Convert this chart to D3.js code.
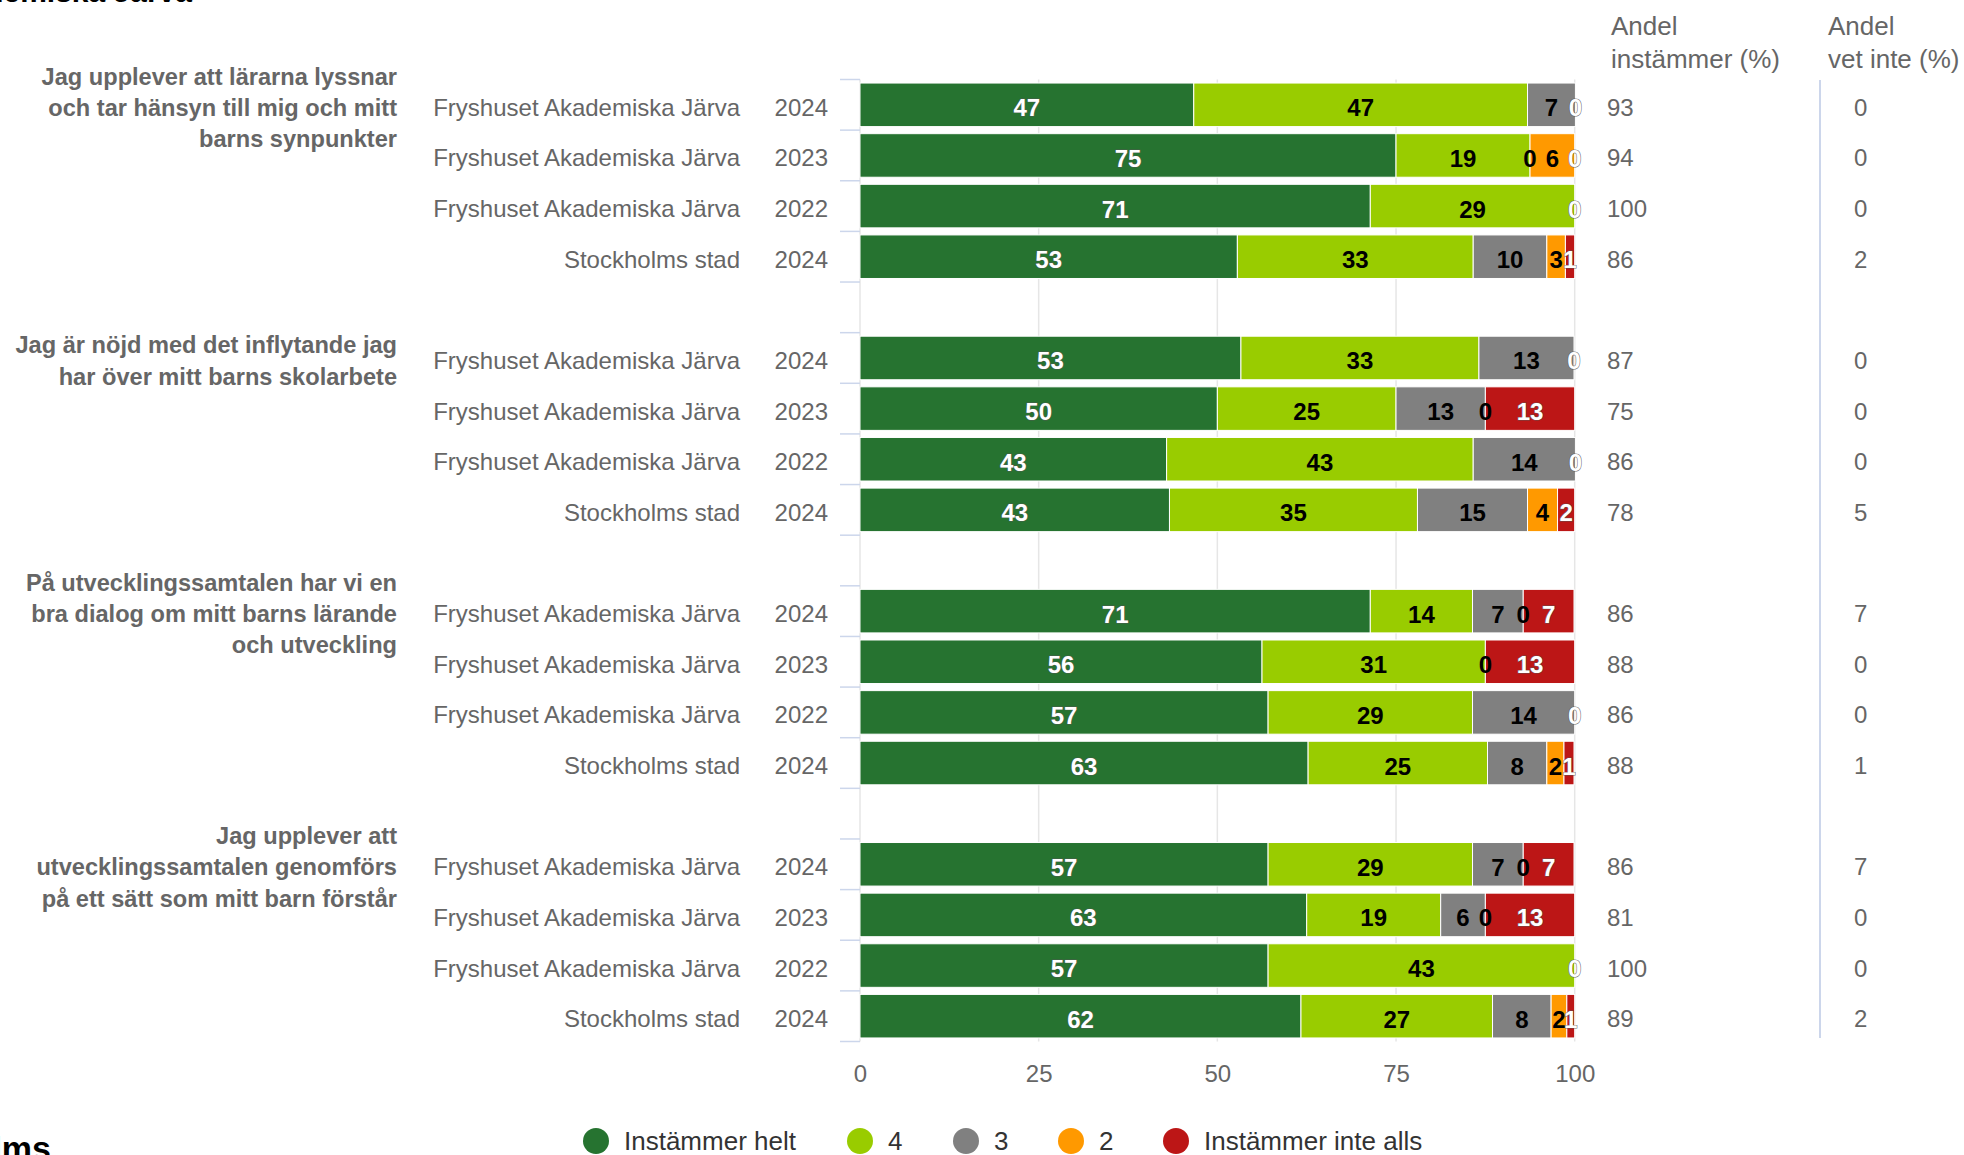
<!DOCTYPE html>
<html><head><meta charset="utf-8">
<script src="https://cdn.jsdelivr.net/npm/d3@7"></script>
<style>
html,body{margin:0;padding:0;background:#fff;}
svg{display:block;font-family:"Liberation Sans",Arial,Helvetica,sans-serif;}
</style></head>
<body><svg id="c" width="1964" height="1155"></svg>
<script>
// ---------- data ----------
const questions = [
  ["Jag upplever att lärarna lyssnar", "och tar hänsyn till mig och mitt", "barns synpunkter"],
  ["Jag är nöjd med det inflytande jag", "har över mitt barns skolarbete"],
  ["På utvecklingssamtalen har vi en", "bra dialog om mitt barns lärande", "och utveckling"],
  ["Jag upplever att", "utvecklingssamtalen genomförs", "på ett sätt som mitt barn förstår"]
];
const units = ["Fryshuset Akademiska Järva", "Fryshuset Akademiska Järva", "Fryshuset Akademiska Järva", "Stockholms stad"];
const years = ["2024", "2023", "2022", "2024"];

const seriesNames = ["Instämmer helt", "4", "3", "2", "Instämmer inte alls"];
const seriesColors = ["#267330", "#99cc00", "#808080", "#ff9900", "#bc1616"];
const labelColors = ["#ffffff", "#000000", "#000000", "#000000", "#ffffff"];

// values per row (4 questions x 4 rows)
const helt      = [46.7, 75.0, 71.4, 52.8,  53.3, 50.0, 42.9, 43.3,  71.4, 56.25, 57.1, 62.7,  57.1, 62.5, 57.1, 61.7];
const fyra      = [46.7, 18.75, 28.6, 33.0, 33.3, 25.0, 42.9, 34.7,  14.3, 31.25, 28.6, 25.1,  28.6, 18.75, 42.9, 26.8];
const tre       = [6.7, 0, 0, 10.3,         13.3, 12.5, 14.3, 15.4,  7.1, 0, 14.3, 8.3,        7.1, 6.25, 0, 8.2];
const tva       = [0, 6.25, 0, 2.6,         0, 0, 0, 4.2,            0, 0, 0, 2.4,             0, 0, 0, 2.2];
const inteAlls  = [0, 0, 0, 1.3,            0, 12.5, 0, 2.4,         7.1, 12.5, 0, 1.4,        7.1, 12.5, 0, 1.1];

const andelInstammer = [93, 94, 100, 86,  87, 75, 86, 78,  86, 88, 86, 88,  86, 81, 100, 89];
const andelVetInte   = [0, 0, 0, 2,       0, 0, 0, 5,      7, 0, 0, 1,      7, 0, 0, 2];

const xTicks = [0, 25, 50, 75, 100];
const headers = [["Andel", "instämmer (%)"], ["Andel", "vet inte (%)"]];

// ---------- build ----------
const series = [helt, fyra, tre, tva, inteAlls];
const nRows = questions.length * 5 - 1;
const rows = [];
questions.forEach((q, g) => {
  units.forEach((u, i) => {
    const k = g * 4 + i;
    rows.push({slot: g * 5 + i, g, i, unit: u, year: years[i], vals: series.map(s => s[k]),
               inst: andelInstammer[k], vet: andelVetInte[k]});
  });
});

const svg = d3.select("#c");
const x = d3.scaleLinear().domain([0, 100]).range([860, 1574.7]);
const y = d3.scaleBand().domain(d3.range(nRows)).range([79.5, 1041.5]).paddingInner(0.14).paddingOuter(0.07);
const step = y.step();
const cy = s => y(s) + y.bandwidth() / 2;
const yTop = y.range()[0], yBot = y.range()[1];
const TXT = 11;   // baseline offset for category texts
const LBL = 11.5; // baseline offset for bar labels

// gridlines
svg.append("g").selectAll("line").data(xTicks).join("line")
  .attr("x1", d => x(d)).attr("x2", d => x(d))
  .attr("y1", yTop).attr("y2", yBot)
  .attr("stroke", "#e6e6e6").attr("stroke-width", 1.5);

// y ticks at row boundaries
svg.append("g").selectAll("line").data(d3.range(nRows + 1)).join("line")
  .attr("x1", 840).attr("x2", 860)
  .attr("y1", d => yTop + d * step).attr("y2", d => yTop + d * step)
  .attr("stroke", "#ccd6eb").attr("stroke-width", 1.5);

// bars
const segs = [];
rows.forEach(r => {
  let acc = 0;
  r.vals.forEach((v, si) => {
    segs.push({r, si, v, x0: acc, x1: acc + v});
    acc += v;
  });
});
svg.append("g").selectAll("rect").data(segs.filter(d => d.v > 0)).join("rect")
  .attr("x", d => x(d.x0)).attr("width", d => x(d.x1) - x(d.x0))
  .attr("y", d => y(d.r.slot)).attr("height", y.bandwidth())
  .attr("fill", d => seriesColors[d.si])
  .attr("stroke", "#fff").attr("stroke-width", 1);

// data labels with overlap hiding (last series has priority)
const fmt = d3.format(".0f");
const lblG = svg.append("g").attr("font-size", 24).attr("font-weight", "bold").attr("text-anchor", "middle");
rows.forEach(r => {
  const shown = [];
  for (let si = series.length - 1; si >= 0; si--) {
    const d = segs.find(s => s.r === r && s.si === si);
    const cx = x((d.x0 + d.x1) / 2);
    const t = lblG.append("text").attr("x", cx).attr("y", cy(r.slot) + LBL)
      .attr("fill", labelColors[si]).text(fmt(d.v));
    if (labelColors[si] === "#ffffff") {
      t.attr("stroke", "#555").attr("stroke-width", 1.2).attr("paint-order", "stroke").attr("stroke-opacity", 0.8);
    }
    const w = t.node().getComputedTextLength();
    const a = cx - w / 2 + 2, b = cx + w / 2 - 2;
    if (shown.some(s => a < s[1] && b > s[0])) { t.remove(); } else { shown.push([a, b]); }
  }
});

// y labels
const lab = svg.append("g").attr("fill", "#666").attr("font-size", 24).attr("text-anchor", "end");
lab.selectAll("text.yr").data(rows).join("text").attr("class", "yr")
  .attr("x", 828).attr("y", d => cy(d.slot) + TXT).text(d => d.year);
lab.selectAll("text.un").data(rows).join("text").attr("class", "un")
  .attr("x", 740).attr("y", d => cy(d.slot) + TXT).text(d => d.unit);

// question labels, centered on first row of group
const qg = svg.append("g").attr("fill", "#666").attr("font-size", 23.6).attr("font-weight", "bold").attr("text-anchor", "end");
questions.forEach((q, g) => {
  const c = cy(g * 5);
  const lh = 31.3;
  const y0 = c - (q.length - 1) * lh / 2;
  q.forEach((line, li) => {
    qg.append("text").attr("x", 397).attr("y", y0 + li * lh + TXT).text(line);
  });
});

// x axis
const xa = svg.append("g").attr("transform", `translate(0,${yBot})`)
  .call(d3.axisBottom(x).tickValues(xTicks).tickSize(0).tickPadding(23.5));
xa.select(".domain").remove();
xa.selectAll("text").attr("font-size", 24).attr("fill", "#666").attr("font-family", "Liberation Sans, Arial, sans-serif");

// right columns
const colX = [1607, 1854];
const hg = svg.append("g").attr("fill", "#666").attr("font-size", 26);
headers.forEach((h, hi) => {
  h.forEach((line, li) => {
    hg.append("text").attr("x", [1611, 1828][hi]).attr("y", 35 + li * 32.5).text(line);
  });
});
const vg = svg.append("g").attr("fill", "#666").attr("font-size", 24);
vg.selectAll("text.i").data(rows).join("text").attr("class", "i")
  .attr("x", colX[0]).attr("y", d => cy(d.slot) + TXT).text(d => d.inst);
vg.selectAll("text.v").data(rows).join("text").attr("class", "v")
  .attr("x", colX[1]).attr("y", d => cy(d.slot) + TXT).text(d => d.vet);
svg.append("line").attr("x1", 1820).attr("x2", 1820).attr("y1", 80).attr("y2", 1038)
  .attr("stroke", "#ccd6eb").attr("stroke-width", 2);

// legend
const legX = [596, 860, 966, 1071, 1176];
const lg = svg.append("g");
seriesNames.forEach((n, i) => {
  lg.append("circle").attr("cx", legX[i]).attr("cy", 1141).attr("r", 13).attr("fill", seriesColors[i]);
  lg.append("text").attr("x", legX[i] + 28).attr("y", 1149.5).attr("font-size", 26).attr("fill", "#333").text(n);
});

// clipped surrounding texts (partially visible in the reference)
svg.append("text").attr("x", 192).attr("y", 2).attr("text-anchor", "end").attr("font-size", 30)
  .attr("font-weight", "bold").attr("fill", "#000").text("Fryshuset Akademiska Järva");
svg.append("text").attr("x", 51).attr("y", 1160).attr("text-anchor", "end").attr("font-size", 34)
  .attr("font-weight", "bold").attr("fill", "#000").text("Stockholms");
</script></body></html>
